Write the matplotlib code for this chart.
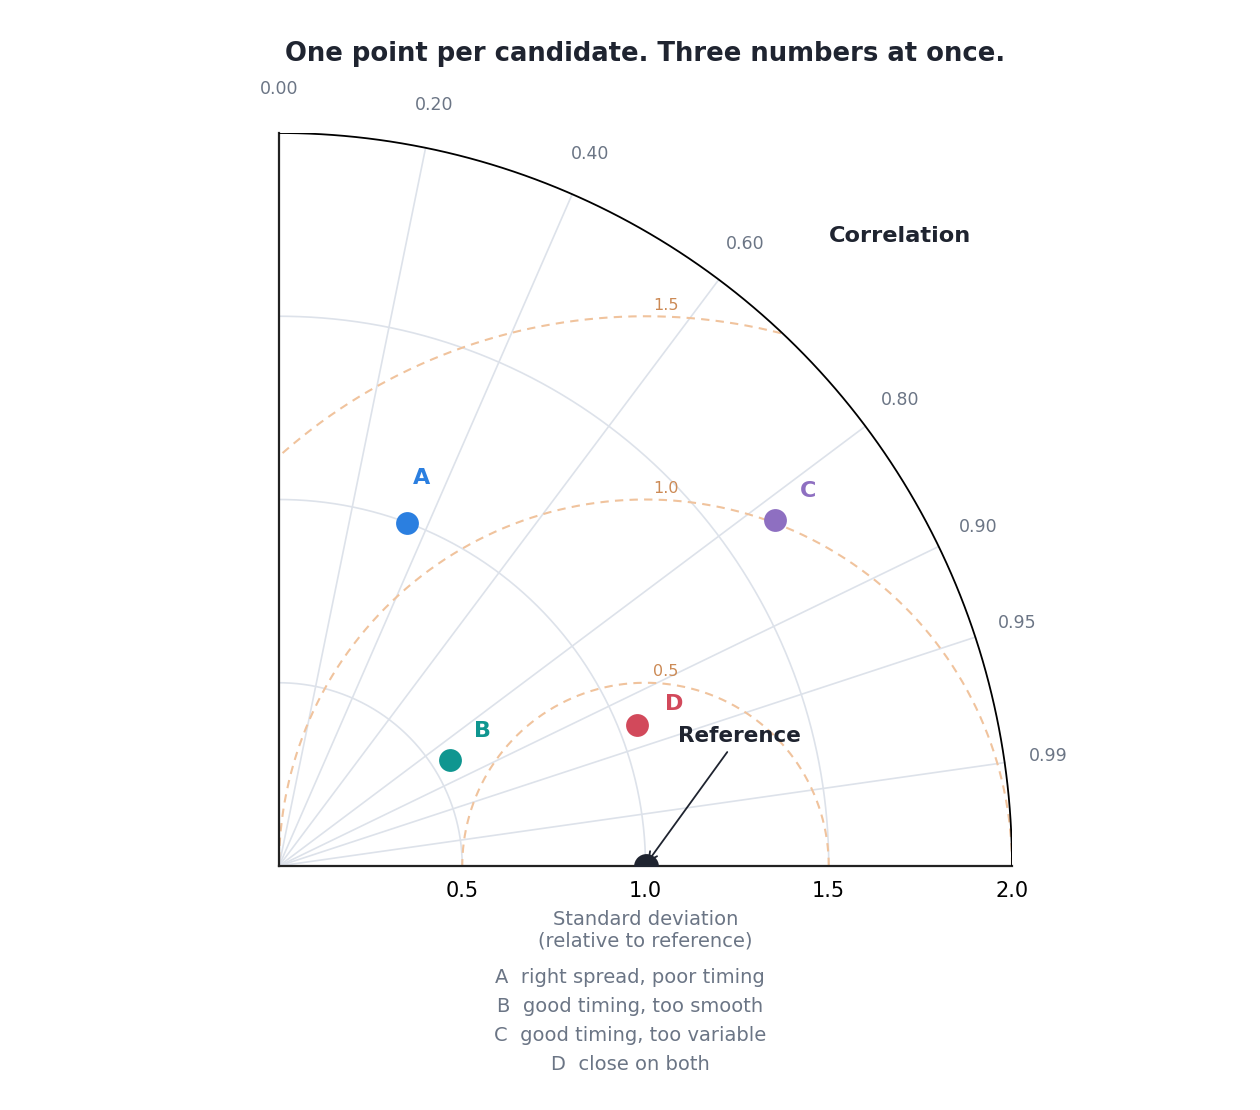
import numpy as np
import matplotlib
matplotlib.use("Agg")
import matplotlib.pyplot as plt

# candidate values (std relative to reference, correlation with reference)
names = ["A", "B", "C", "D"]
stds = [1.00, 0.55, 1.65, 1.05]
corrs = [0.35, 0.85, 0.82, 0.93]
notes = ["right spread, poor timing", "good timing, too smooth",
         "good timing, too variable", "close on both"]
colors = ["#2b7fe0", "#0f9690", "#8e6fc1", "#d2495b"]
label_offsets = [(10, 32), (23, 21), (24, 21), (27, 15)]

ref_std = 1.0
std_ticks = [0.5, 1.0, 1.5, 2.0]
corr_ticks = [0.0, 0.2, 0.4, 0.6, 0.8, 0.9, 0.95, 0.99]
rms_levels = [0.5, 1.0, 1.5]
r_max = 2.0

grid_col = "#dde2ea"
rms_col = "#f0c39d"
rms_txt = "#cc8a55"
gray = "#6b7585"
dark = "#1f2430"

fig = plt.figure(figsize=(12.6, 11.1), dpi=100)
ax = fig.add_axes([279 / 1260, 244 / 1110, 733 / 1260, 733 / 1110])
ax.set_xlim(0, r_max)
ax.set_ylim(0, r_max)

# std arcs
t = np.linspace(0, np.pi / 2, 300)
for s in std_ticks[:-1]:
    ax.plot(s * np.cos(t), s * np.sin(t), color=grid_col, lw=1.2, zorder=1)
ax.plot(r_max * np.cos(t), r_max * np.sin(t), color="black", lw=1.3, zorder=4)

# correlation rays + labels
for c in corr_ticks:
    th = np.arccos(c)
    if c > 0:
        ax.plot([0, r_max * np.cos(th)], [0, r_max * np.sin(th)],
                color=grid_col, lw=1.2, zorder=1)
    ax.text(2.12 * np.cos(th), 2.12 * np.sin(th), f"{c:.2f}", color=gray,
            fontsize=12.5, ha="center", va="center", clip_on=False)
ax.text(1.695, 1.72, "Correlation", fontsize=16.2, fontweight="bold",
        color=dark, ha="center", va="center")

# centred RMS difference circles
tt = np.linspace(0, np.pi, 600)
for r in rms_levels:
    x = ref_std + r * np.cos(tt)
    y = r * np.sin(tt)
    keep = (x >= 0) & (np.hypot(x, y) <= r_max)
    x = np.where(keep, x, np.nan)
    y = np.where(keep, y, np.nan)
    ax.plot(x, y, color=rms_col, lw=1.5, ls=(0, (4, 3)), zorder=2)
    ax.text(ref_std + 0.055, r + 0.03, f"{r:.1f}", color=rms_txt,
            fontsize=11.5, ha="center", va="center", zorder=3)

# candidates
for n, s, c, col, off in zip(names, stds, corrs, colors, label_offsets):
    th = np.arccos(c)
    px, py = s * np.cos(th), s * np.sin(th)
    ax.scatter([px], [py], s=270, color=col, zorder=5, linewidths=0)
    ax.annotate(n, (px, py), xytext=off, textcoords="offset points",
                color=col, fontsize=16, fontweight="bold",
                ha="center", va="center")

# reference point
ax.scatter([ref_std], [0], s=320, color=dark, zorder=6, linewidths=0)
ax.annotate("Reference", xy=(ref_std + 0.005, 0.01), xytext=(1.255, 0.355),
            fontsize=15.5, fontweight="bold", color=dark,
            ha="center", va="center",
            arrowprops=dict(arrowstyle="->", color=dark, lw=1.3,
                            shrinkA=3, shrinkB=0))

for side in ["top", "right"]:
    ax.spines[side].set_visible(False)
for side in ["left", "bottom"]:
    ax.spines[side].set_color("#222222")
    ax.spines[side].set_linewidth(1.6)
ax.set_xticks(std_ticks)
ax.set_xticklabels([f"{v:.1f}" for v in std_ticks])
ax.set_yticks([])
ax.tick_params(axis="x", length=0, labelsize=15, pad=11)
ax.set_xlabel("Standard deviation\n(relative to reference)", fontsize=14,
              color=gray, labelpad=6)

ax.text(0.5, 1.108, "One point per candidate. Three numbers at once.",
        transform=ax.transAxes, fontsize=18.6, fontweight="bold",
        color=dark, ha="center", va="center")

legend = "\n".join(f"{n}  {d}" for n, d in zip(names, notes))
fig.text(0.5, 1 - 1021 / 1110, legend, fontsize=14, color=gray,
         ha="center", va="center", multialignment="center", linespacing=1.68)

fig.savefig("out.png", dpi=100)
